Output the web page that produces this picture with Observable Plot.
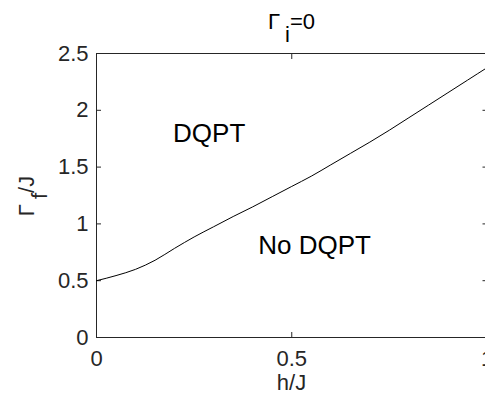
<!DOCTYPE html>
<html>
<head>
<meta charset="utf-8">
<script src="https://cdn.jsdelivr.net/npm/d3@7"></script>
<script src="https://cdn.jsdelivr.net/npm/@observablehq/plot@0.6"></script>
<style>
  html, body { margin: 0; padding: 0; background: #fff; overflow: hidden; }
  #chart { position: relative; width: 485px; height: 396px; overflow: hidden; }
  #chart svg { max-width: none !important; }
</style>
</head>
<body>
<div id="chart"></div>
<script>
// Boundary between DQPT and No DQPT regions (Γ_i = 0)
const hValues = [0, 0.05, 0.10, 0.15, 0.20, 0.25, 0.30, 0.35, 0.40, 0.45, 0.50,
                 0.55, 0.60, 0.65, 0.70, 0.75, 0.80, 0.85, 0.90, 0.95, 1.00];
const gammaF  = [0.50, 0.545, 0.60, 0.68, 0.785, 0.885, 0.975, 1.065, 1.15, 1.24, 1.33,
                 1.42, 1.52, 1.62, 1.72, 1.825, 1.935, 2.045, 2.155, 2.265, 2.375];

const xTicks = [0, 0.5, 1];
const yTicks = [0, 0.5, 1, 1.5, 2, 2.5];

// Region annotations (data coordinates)
const regionLabels = ["DQPT", "No DQPT"];
const regionH = [0.196, 0.414];
const regionG = [1.79, 0.806];

const titleMain = "Γ", titleSub = "i", titleRest = "=0";
const yLabelMain = "Γ", yLabelSub = "f", yLabelRest = "/J";
const xLabel = "h/J";

const boundary = hValues.map((h, i) => ({h, g: gammaF[i]}));
const labels = regionLabels.map((t, i) => ({t, h: regionH[i], g: regionG[i]}));

const axisColor = "#262626";
const font = "'Liberation Sans', Arial, Helvetica, sans-serif";

const plot = Plot.plot({
  width: 500,
  height: 396,
  marginLeft: 96,
  marginRight: 13.5,
  marginTop: 53,
  marginBottom: 59,
  x: {domain: [0, 1]},
  y: {domain: [0, 2.5]},
  style: {fontFamily: font, fontSize: "22px", color: axisColor, background: "white", overflow: "visible"},
  marks: [
    Plot.frame({stroke: axisColor, strokeWidth: 1}),
    Plot.axisX(xTicks, {anchor: "bottom", tickSize: -5, tickPadding: 17.5, label: null, tickFormat: d => String(d), stroke: axisColor, fill: axisColor}),
    Plot.axisX(xTicks, {anchor: "top", tickSize: -5, label: null, tickFormat: () => "", stroke: axisColor}),
    Plot.axisY(yTicks, {anchor: "left", tickSize: -5, tickPadding: 13, label: null, tickFormat: d => String(d), stroke: axisColor, fill: axisColor}),
    Plot.axisY(yTicks, {anchor: "right", tickSize: -5, label: null, tickFormat: () => "", stroke: axisColor}),
    Plot.line(boundary, {x: "h", y: "g", stroke: "#000", strokeWidth: 1, curve: "monotone-x"}),
    Plot.text(labels, {x: "h", y: "g", text: "t", textAnchor: "start", lineAnchor: "middle", fontSize: 26, fill: "#000"})
  ]
});
plot.style.maxWidth = "none";
plot.style.width = "500px";
plot.style.height = "396px";

const svg = d3.select(plot);
// Title with subscript
const tt = svg.append("text")
  .attr("x", 291.5).attr("y", 28.5)
  .attr("text-anchor", "middle")
  .attr("font-family", font).attr("font-size", 22).attr("fill", "#000");
tt.append("tspan").text(titleMain);
tt.append("tspan").attr("dx", 5).attr("dy", 13).text(titleSub);
tt.append("tspan").attr("dy", -13).text(titleRest);

// Y label (rotated) with subscript
const yl = svg.append("text")
  .attr("transform", "translate(33.5,196) rotate(-90)")
  .attr("text-anchor", "middle")
  .attr("font-family", font).attr("font-size", 22).attr("fill", axisColor);
yl.append("tspan").text(yLabelMain);
yl.append("tspan").attr("dx", 5).attr("dy", 13).text(yLabelSub);
yl.append("tspan").attr("dy", -13).text(yLabelRest);

// X label
svg.append("text")
  .attr("x", 291.5).attr("y", 390)
  .attr("text-anchor", "middle")
  .attr("font-family", font).attr("font-size", 22).attr("fill", axisColor)
  .text(xLabel);

document.getElementById("chart").appendChild(plot);
</script>
</body>
</html>
